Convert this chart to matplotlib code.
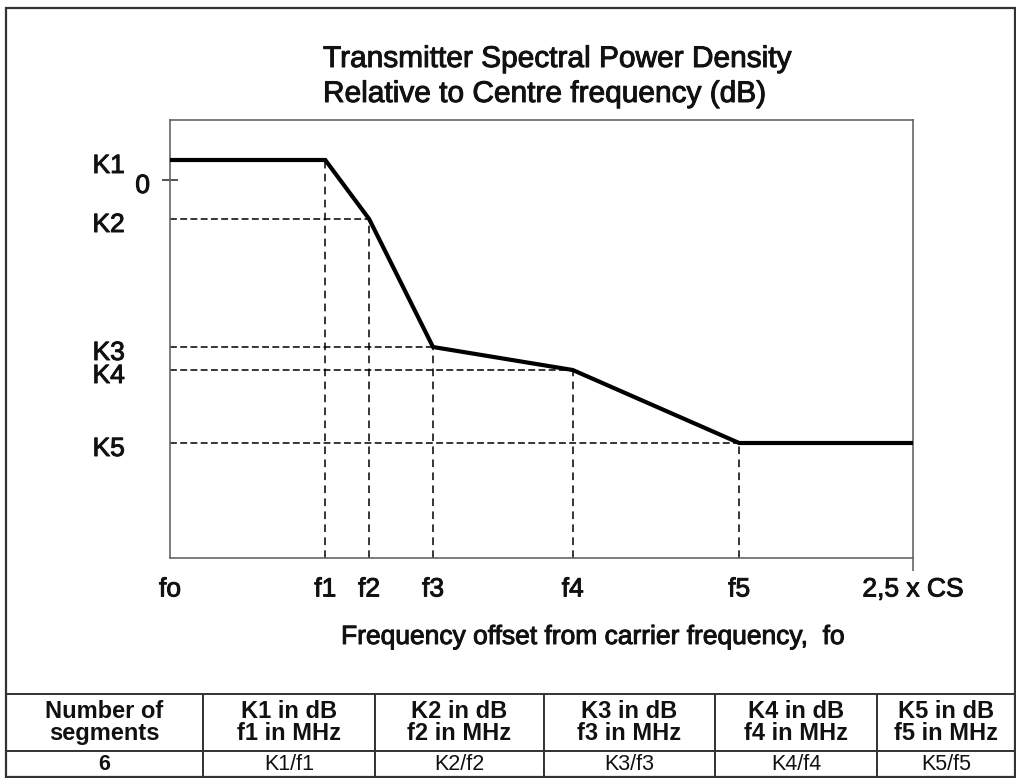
import numpy as np
import matplotlib
matplotlib.use("Agg")
import matplotlib.pyplot as plt
import matplotlib.transforms as mtransforms
import matplotlib.patheffects as pe
from matplotlib.patches import Rectangle

plt.rcParams["font.family"] = ["Liberation Sans", "DejaVu Sans"]

# --- chart values (arbitrary units) ---
f_names = ["f1", "f2", "f3", "f4", "f5"]
f_pos = [20.9, 26.8, 35.4, 54.2, 76.6]
k_names = ["K1", "K2", "K3", "K4", "K5"]
k_lvl = [2.0, -3.9, -16.7, -19.0, -26.3]
x_end = 100.0
x_end_label = "2,5 x CS"
x_start_label = "fo"

# --- table ---
col_labels = ["Number of\nsegments", "K1 in dB\nf1 in MHz", "K2 in dB\nf2 in MHz",
              "K3 in dB\nf3 in MHz", "K4 in dB\nf4 in MHz", "K5 in dB\nf5 in MHz"]
row_values = ["6", "K1/f1", "K2/f2", "K3/f3", "K4/f4", "K5/f5"]
col_px = [197, 172, 169, 171, 162, 138]

W, H = 1016, 778
ink = "#111111"
heavy = [pe.withStroke(linewidth=0.7, foreground=ink)]

fig = plt.figure(figsize=(W / 100, H / 100), dpi=100)

ax = fig.add_axes([170 / W, 1 - 558 / H, 743 / W, 438 / H])
ax.set_xlim(0, x_end)
ax.set_ylim(-37.8, 6.0)

# mask curve
xs = [0] + f_pos + [x_end]
ys = [k_lvl[0]] + k_lvl + [k_lvl[-1]]
ax.plot(xs, ys, color="black", lw=3, solid_joinstyle="miter", zorder=4)

# dashed guides
for i, (fx, ky) in enumerate(zip(f_pos, k_lvl)):
    ax.plot([fx, fx], [ax.get_ylim()[0], ky], color="black", lw=1.1,
            ls=(0, (5, 3.5)), zorder=2)
    if i > 0:
        ax.plot([0, fx], [ky, ky], color="black", lw=1.1,
                ls=(0, (4.5, 2.2)), zorder=2)

for s in ax.spines.values():
    s.set_color("#666666")
    s.set_linewidth(1.2)

# x ticks
ax.xaxis.remove_overlapping_locs = False
ax.set_xticks([0] + f_pos + [x_end])
ax.set_xticklabels([x_start_label] + f_names + [x_end_label])
ax.tick_params(axis="x", length=0, pad=14, labelsize=19, labelcolor=ink)
for lab in ax.get_xticklabels():
    lab.set_path_effects(heavy)
ax.set_xticks([x_end], minor=True)
ax.tick_params(axis="x", which="minor", length=9, width=1.2, color="#666666")

# y: 0 tick mark, K labels as text
ax.set_yticks([])
ax.set_yticks([0], minor=True)
ax.tick_params(axis="y", which="minor", length=11, width=1.2, direction="inout",
               color="#333333", labelleft=False)

off = mtransforms.ScaledTranslation(0, -6 / 100, fig.dpi_scale_trans)
for name, ky in zip(k_names, k_lvl):
    ax.text(-0.061, ky, name, transform=ax.get_yaxis_transform() + off,
            ha="right", va="center", fontsize=19, color=ink, clip_on=False,
            path_effects=heavy)
ax.text(-0.027, 0, "0", transform=ax.get_yaxis_transform() + off,
        ha="right", va="center", fontsize=19, color=ink, clip_on=False,
        path_effects=heavy)

# titles and axis label
fig.text(323 / W, 1 - 67 / H, "Transmitter Spectral Power Density",
         fontsize=21.5, va="baseline", ha="left", color=ink, path_effects=heavy)
fig.text(323 / W, 1 - 102 / H, "Relative to Centre frequency (dB)",
         fontsize=21.5, va="baseline", ha="left", color=ink, path_effects=heavy)
fig.text(593 / W, 1 - 637 / H, "Frequency offset from carrier frequency,  fo",
         fontsize=19, va="center", ha="center", color=ink, path_effects=heavy)

# outer frame
fig.patches.append(Rectangle((6 / W, 1 / H), 1009 / W, 769 / H,
                             transform=fig.transFigure, fill=False,
                             edgecolor="#333333", lw=1.6))

# table
tax = fig.add_axes([6 / W, 1 / H, 1009 / W, 83 / H])
tax.axis("off")
widths = np.array(col_px) / sum(col_px)
tbl = tax.table(cellText=[row_values], colLabels=col_labels,
                colWidths=list(widths), cellLoc="center", bbox=[0, 0, 1, 1])
tbl.auto_set_font_size(False)
for (r, c), cell in tbl.get_celld().items():
    cell.set_edgecolor("#333333")
    cell.set_linewidth(1.4)
    cell.set_height(57 if r == 0 else 26)
    t = cell.get_text()
    t.set_color(ink)
    if r == 0:
        t.set_fontsize(17)
        t.set_fontweight("bold")
        t.set_linespacing(0.95)
    else:
        t.set_fontsize(15.5)
        if c == 0:
            t.set_fontweight("bold")

fig.savefig("out.png", dpi=100)
